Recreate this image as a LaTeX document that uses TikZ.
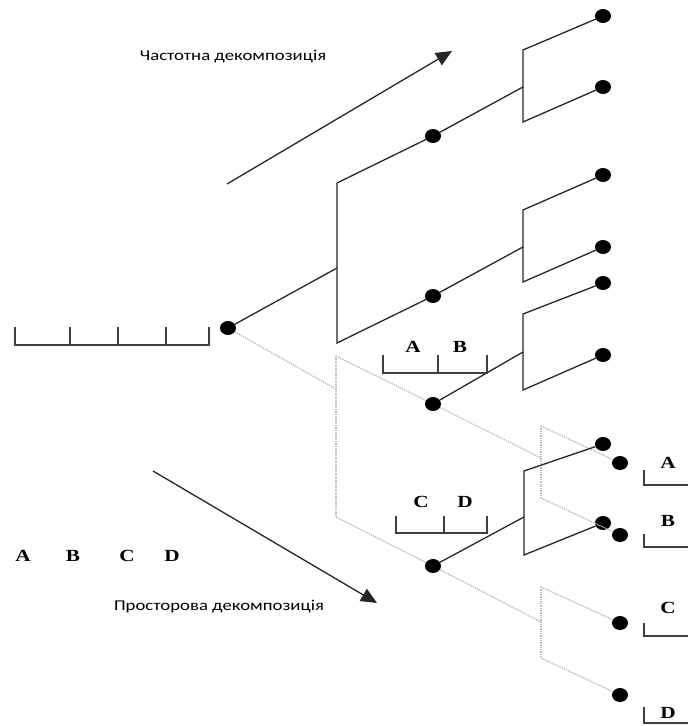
\documentclass[tikz,border=0pt]{standalone}
\usepackage{graphicx}
\usepackage{fontspec}
\setmainfont{Liberation Serif}
\newfontfamily\capfont{Carlito}
\newfontfamily\letterfont{Liberation Serif}
\usetikzlibrary{arrows.meta}
\usetikzlibrary{shapes.geometric}
\usetikzlibrary{positioning}

% the source picture is stretched sideways
\newcommand{\wide}[1]{\scalebox{1.25}[1]{#1}}

\tikzset{
    dot/.style={ellipse,fill=black,inner sep=0pt,minimum width=16pt,minimum height=14pt},
    blackline/.style={line width=1.3pt,black!85},
    grayline/.style={line width=1.3pt,gray!55,densely dotted},
    letter/.style={inner sep=0pt,font=\letterfont\bfseries\fontsize{17}{17}\selectfont},
    caption/.style={inner sep=0pt,font=\capfont\fontsize{15}{15}\selectfont},
    scaleline/.style={line width=1.3pt,black!75}
}

\begin{document}
\begin{tikzpicture}[x=1pt,y=-1pt]
        \useasboundingbox (0,0) rectangle (688,726);

        % Direction arrows
        \coordinate (fs) at (227,184);
        \coordinate (fe) at (452,51);
        \coordinate (ss) at (153,471);
        \coordinate (se) at (377,603);
        \draw[line width=1.3pt,black!85,-{Triangle[length=16pt,width=14pt]}] (fs) -- (fe);
        \draw[line width=1.3pt,black!85,-{Triangle[length=16pt,width=14pt]}] (ss) -- (se);
        \node[caption] (freq) at (233,57) {\wide{Частотна декомпозиція}};
        \node[caption] (space) at (219,607) {\wide{Просторова декомпозиція}};

        % Input scale
        \draw[scaleline] (15,327) -- (15,345) -- (209,345) -- (209,327);
        \foreach \x in {70,118,166}
            \draw[scaleline] (\x,327) -- (\x,345);

        % Nodes
        \node[dot] (r) at (228,328) {};
        \node[dot] (a) at (433,136) {};
        \node[dot] (b) at (433,296) {};
        \node[dot] (c) at (433,404) {};
        \node[dot] (d) at (433,566) {};
        \node[dot] (a1) at (603,16) {};
        \node[dot] (a2) at (603,87) {};
        \node[dot] (b1) at (603,175) {};
        \node[dot] (b2) at (603,247) {};
        \node[dot] (c1) at (603,283) {};
        \node[dot] (c2) at (603,355) {};
        \node[dot] (d1) at (603,444) {};
        \node[dot] (d2) at (603,523) {};
        \node[dot] (g1) at (620,463) {};
        \node[dot] (g2) at (620,535) {};
        \node[dot] (g3) at (620,623) {};
        \node[dot] (g4) at (620,695) {};

        % Bar ends
        \coordinate (lt) at (337,183);
        \coordinate (lj) at (337,268);
        \coordinate (lbot) at (337,343);
        \coordinate (mt) at (336,356);
        \coordinate (mj) at (336,389);
        \coordinate (mb) at (336,517);
        \coordinate (at) at (523,50);
        \coordinate (aj) at (523,87);
        \coordinate (ab) at (523,122);
        \coordinate (bt) at (523,210);
        \coordinate (bj) at (523,247);
        \coordinate (bb) at (523,282);
        \coordinate (ct) at (523,314);
        \coordinate (cj) at (523,352);
        \coordinate (cb) at (523,390);
        \coordinate (dt) at (524,471);
        \coordinate (dj) at (524,517);
        \coordinate (db) at (524,555);
        \coordinate (pt) at (541,426);
        \coordinate (pj) at (541,458);
        \coordinate (pb) at (541,498);
        \coordinate (qt) at (541,587);
        \coordinate (qj) at (541,622);
        \coordinate (qb) at (541,658);

        % Gray branches
        \draw[grayline] (r) -- (mj);
        \draw[grayline] (mt) -- (mb);
        \draw[grayline] (mt) -- (c) -- (pj);
        \draw[grayline] (mb) -- (d) -- (qj);
        \draw[grayline] (pt) -- (pb);
        \draw[grayline] (pt) -- (g1);
        \draw[grayline] (pb) -- (g2);
        \draw[grayline] (qt) -- (qb);
        \draw[grayline] (qt) -- (g3);
        \draw[grayline] (qb) -- (g4);

        % Black branches
        \draw[blackline] (r) -- (lj);
        \draw[blackline] (a) -- (lt) -- (lbot) -- (b);
        \draw[blackline] (a) -- (aj);
        \draw[blackline] (a1) -- (at) -- (ab) -- (a2);
        \draw[blackline] (b) -- (bj);
        \draw[blackline] (b1) -- (bt) -- (bb) -- (b2);
        \draw[blackline] (c) -- (cj);
        \draw[blackline] (c1) -- (ct) -- (cb) -- (c2);
        \draw[blackline] (d) -- (dj);
        \draw[blackline] (d1) -- (dt) -- (db) -- (d2);

        % Sub-band scales
        \draw[scaleline] (383,355) -- (383,373) -- (487,373) -- (487,355);
        \draw[scaleline] (438,355) -- (438,373);
        \draw[scaleline] (396,516) -- (396,533) -- (487,533) -- (487,516);
        \draw[scaleline] (444,516) -- (444,533);
        \foreach \ya/\yb in {470/485,534/547,623/636,707/723}
            \draw[scaleline] (644,\ya) -- (644,\yb) -- (688,\yb);

        % Labels
        \node[letter] (la) at (413,347) {\wide{A}};
        \node[letter] (lbl) at (460,347) {\wide{B}};
        \node[letter] (lc) at (421,502) {\wide{C}};
        \node[letter] (ld) at (465,502) {\wide{D}};
        \node[letter] (ra) at (668,463) {\wide{A}};
        \node[letter] (rb) at (668,521) {\wide{B}};
        \node[letter] (rc) at (668,608) {\wide{C}};
        \node[letter] (rd) at (668,713) {\wide{D}};
        \node[letter] (ba) at (23,556) {\wide{A}};
        \node[letter] (bbl) at (73,556) {\wide{B}};
        \node[letter] (bc) at (127,556) {\wide{C}};
        \node[letter] (bd) at (172,556) {\wide{D}};
    \end{tikzpicture}
\end{document}
